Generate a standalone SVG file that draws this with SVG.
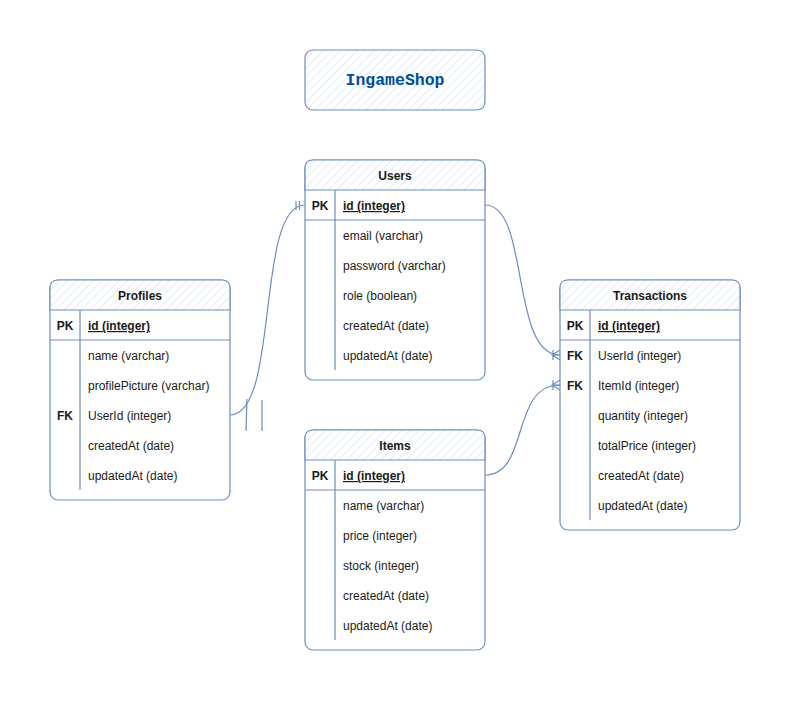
<svg xmlns="http://www.w3.org/2000/svg" width="791" height="701" viewBox="0 0 791 701">
<defs>
<pattern id="hatch" patternUnits="userSpaceOnUse" width="6" height="6" patternTransform="rotate(45)">
<rect width="6" height="6" fill="#ffffff"/>
<line x1="0" y1="0" x2="0" y2="6" stroke="#dae8fc" stroke-width="1.6"/>
</pattern>
<style>
.box{fill:#ffffff;stroke:#6c8ebf;stroke-width:1.2}
.hdr{fill:url(#hatch);stroke:#6c8ebf;stroke-width:1.2}
.ln{fill:none;stroke:#6c8ebf;stroke-width:1.2}
.t{font-family:"Liberation Sans",Arial,sans-serif;font-size:12px;fill:#1a1a1a}
.b{font-weight:bold}
.u{text-decoration:underline}
.c{text-anchor:middle}
.title{font-family:"Liberation Mono","Courier New",monospace;font-size:16.5px;font-weight:bold;fill:#004c99;text-anchor:middle}
</style>
</defs>
<rect width="791" height="701" fill="#ffffff"/>

<g id="title">
<rect class="hdr" x="305" y="50" width="180" height="60" rx="8"/>
<text class="title" x="395" y="85">IngameShop</text>
</g>

<g id="users">
<rect class="box" x="305" y="160" width="180" height="220" rx="8"/>
<path class="hdr" d="M305,190 V168 Q305,160 313,160 H477 Q485,160 485,168 V190 Z"/>
<line class="ln" x1="305" y1="220" x2="485" y2="220"/>
<line class="ln" x1="335" y1="190" x2="335" y2="370"/>
<text class="t b c" x="395" y="180">Users</text>
<text class="t b c" x="320" y="210">PK</text>
<text class="t b u" x="343" y="210">id (integer)</text>
<text class="t" x="343" y="240">email (varchar)</text>
<text class="t" x="343" y="270">password (varchar)</text>
<text class="t" x="343" y="300">role (boolean)</text>
<text class="t" x="343" y="330">createdAt (date)</text>
<text class="t" x="343" y="360">updatedAt (date)</text>
</g>

<g id="profiles">
<rect class="box" x="50" y="280" width="180" height="220" rx="8"/>
<path class="hdr" d="M50,310 V288 Q50,280 58,280 H222 Q230,280 230,288 V310 Z"/>
<line class="ln" x1="50" y1="340" x2="230" y2="340"/>
<line class="ln" x1="80" y1="310" x2="80" y2="490"/>
<text class="t b c" x="140" y="300">Profiles</text>
<text class="t b c" x="65" y="330">PK</text>
<text class="t b u" x="88" y="330">id (integer)</text>
<text class="t" x="88" y="360">name (varchar)</text>
<text class="t" x="88" y="390">profilePicture (varchar)</text>
<text class="t b c" x="65" y="420">FK</text>
<text class="t" x="88" y="420">UserId (integer)</text>
<text class="t" x="88" y="450">createdAt (date)</text>
<text class="t" x="88" y="480">updatedAt (date)</text>
</g>

<g id="transactions">
<rect class="box" x="560" y="280" width="180" height="250" rx="8"/>
<path class="hdr" d="M560,310 V288 Q560,280 568,280 H732 Q740,280 740,288 V310 Z"/>
<line class="ln" x1="560" y1="340" x2="740" y2="340"/>
<line class="ln" x1="590" y1="310" x2="590" y2="520"/>
<text class="t b c" x="650" y="300">Transactions</text>
<text class="t b c" x="575" y="330">PK</text>
<text class="t b u" x="598" y="330">id (integer)</text>
<text class="t b c" x="575" y="360">FK</text>
<text class="t" x="598" y="360">UserId (integer)</text>
<text class="t b c" x="575" y="390">FK</text>
<text class="t" x="598" y="390">ItemId (integer)</text>
<text class="t" x="598" y="420">quantity (integer)</text>
<text class="t" x="598" y="450">totalPrice (integer)</text>
<text class="t" x="598" y="480">createdAt (date)</text>
<text class="t" x="598" y="510">updatedAt (date)</text>
</g>

<g id="items">
<rect class="box" x="305" y="430" width="180" height="220" rx="8"/>
<path class="hdr" d="M305,460 V438 Q305,430 313,430 H477 Q485,430 485,438 V460 Z"/>
<line class="ln" x1="305" y1="490" x2="485" y2="490"/>
<line class="ln" x1="335" y1="460" x2="335" y2="640"/>
<text class="t b c" x="395" y="450">Items</text>
<text class="t b c" x="320" y="480">PK</text>
<text class="t b u" x="343" y="480">id (integer)</text>
<text class="t" x="343" y="510">name (varchar)</text>
<text class="t" x="343" y="540">price (integer)</text>
<text class="t" x="343" y="570">stock (integer)</text>
<text class="t" x="343" y="600">createdAt (date)</text>
<text class="t" x="343" y="630">updatedAt (date)</text>
</g>

<g id="connectors">
<path class="ln" d="M230,415 C280,415 255,205 305,205"/>
<line class="ln" x1="296" y1="201" x2="296" y2="210"/>
<line class="ln" x1="299.5" y1="201" x2="299.5" y2="210"/>
<line class="ln" x1="247" y1="399" x2="246" y2="431"/>
<line class="ln" x1="262" y1="400" x2="262" y2="431"/>

<path class="ln" d="M485,205 C530,205 510,355 560,355"/>
<path class="ln" d="M560,350 L552,355 L560,360 M552,355 H560 M553,350 V360"/>

<path class="ln" d="M485,475 C530,475 510,385 560,385"/>
<path class="ln" d="M560,380 L552,385 L560,390 M552,385 H560 M553,380 V390"/>
</g>
</svg>
